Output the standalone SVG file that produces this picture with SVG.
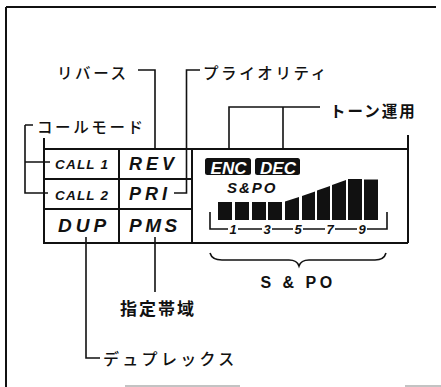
<svg xmlns="http://www.w3.org/2000/svg" width="441" height="387" viewBox="0 0 441 387">
<style>
.jp{font-family:"Noto Sans CJK JP","Noto Sans",sans-serif;font-size:15.5px;fill:#111;letter-spacing:2.6px;font-weight:500}
.lcd{font-family:"Liberation Sans",Arial,sans-serif;font-weight:bold;font-style:italic;fill:#111}
.ln{stroke:#111;stroke-width:1.6;fill:none}
.pn{stroke:#111;stroke-width:2;fill:none}
.bar{fill:#111}
</style>
<rect width="441" height="387" fill="#fff"/>
<g id="frame">
<path class="pn" d="M6,7 H436 M6,7 V387"/>
<path d="M125,386 H240 M405,386 H441" stroke="#888" stroke-width="1.2"/>
</g>
<g id="panel">
<path class="pn" d="M44,138 V243 H408 M44,149 H408 M408,135 V243 M119,149 V243 M192,149 V243 M44,179 H192 M44,209 H192"/>
</g>
<g id="call1"><text class="lcd" x="55" y="169" font-size="13.5" letter-spacing="1.2">CALL 1</text></g>
<g id="call2"><text class="lcd" x="55" y="200" font-size="13.5" letter-spacing="1.2">CALL 2</text></g>
<g id="rev"><text class="lcd" x="129" y="170" font-size="18" letter-spacing="4">REV</text></g>
<g id="pri"><text class="lcd" x="129" y="200" font-size="18" letter-spacing="4">PRI</text></g>
<g id="dup"><text class="lcd" x="58" y="232" font-size="19" letter-spacing="4">DUP</text></g>
<g id="pms"><text class="lcd" x="129" y="232" font-size="19" letter-spacing="3.5">PMS</text></g>
<g id="enc">
<rect x="205" y="158" width="46" height="17" rx="2.5" fill="#111"/>
<text class="lcd" x="228.5" y="173.5" font-size="17" style="fill:#fff" text-anchor="middle">ENC</text>
</g>
<g id="dec">
<rect x="255" y="158" width="45" height="17" rx="2.5" fill="#111"/>
<text class="lcd" x="278" y="173.5" font-size="17" style="fill:#fff" text-anchor="middle">DEC</text>
</g>
<g id="spo-meter">
<text class="lcd" x="227" y="193" font-size="15" letter-spacing="2">S&amp;PO</text>
<polygon class="bar" points="218,202 232,202 232,220 218,220"/>
<polygon class="bar" points="235,202 249,202 249,220 235,220"/>
<polygon class="bar" points="252,202 266,202 266,220 252,220"/>
<polygon class="bar" points="268,202 282,202 282,220 268,220"/>
<polygon class="bar" points="285,201.5 299,197 299,220 285,220"/>
<polygon class="bar" points="302,196 315,191.5 315,220 302,220"/>
<polygon class="bar" points="317,190.5 330,186 330,220 317,220"/>
<polygon class="bar" points="332,185 346,180 346,220 332,220"/>
<polygon class="bar" points="348,179 362,179 362,220 348,220"/>
<polygon class="bar" points="364,179.5 378,179.5 378,220 364,220"/>
<path class="ln" stroke-width="1.8" d="M210,212 V229 H228 M238,229 H262 M272,229 H293 M303,229 H325 M335,229 H357 M367,229 H387 V212"/>
<text class="lcd" x="233" y="234" font-size="13" text-anchor="middle">1</text>
<text class="lcd" x="267" y="234" font-size="13" text-anchor="middle">3</text>
<text class="lcd" x="298" y="234" font-size="13" text-anchor="middle">5</text>
<text class="lcd" x="330" y="234" font-size="13" text-anchor="middle">7</text>
<text class="lcd" x="362" y="234" font-size="13" text-anchor="middle">9</text>
</g>
<g id="connectors">
<path class="ln" d="M25,125 H33 M25,125 V193 H48 M25,162 H50"/>
<path class="ln" d="M138,70 H155 V149"/>
<path class="ln" d="M174,193 H186.5 V70 H200"/>
<path class="ln" d="M229,149 V107 H320 M283,107 V149"/>
<path class="ln" d="M155,237 V292"/>
<path class="ln" d="M86,237 V358 H100"/>
<path class="ln" stroke-width="2.4" d="M210,253 Q212,260 222,260 H289 Q297,260 299,266 Q301,260 309,260 H375 Q384,260 386,253"/>
</g>
<g id="label-reverse"><text class="jp" x="57" y="79">リバース</text></g>
<g id="label-priority"><text class="jp" x="203" y="79">プライオリティ</text></g>
<g id="label-callmode"><text class="jp" x="37" y="133">コールモード</text></g>
<g id="label-tone"><text class="jp" x="330" y="117" style="font-weight:bold;letter-spacing:2px">トーン運用</text></g>
<g id="label-spo"><text x="298" y="288" font-family="Liberation Sans, Arial, sans-serif" font-weight="bold" font-size="16" letter-spacing="3.5" text-anchor="middle" fill="#111">S &amp; PO</text></g>
<g id="label-band"><text class="jp" x="120" y="315" style="font-size:17px;letter-spacing:2px;font-weight:bold">指定帯域</text></g>
<g id="label-duplex"><text class="jp" x="103" y="365" style="font-size:16px;letter-spacing:3.3px">デュプレックス</text></g>
</svg>
